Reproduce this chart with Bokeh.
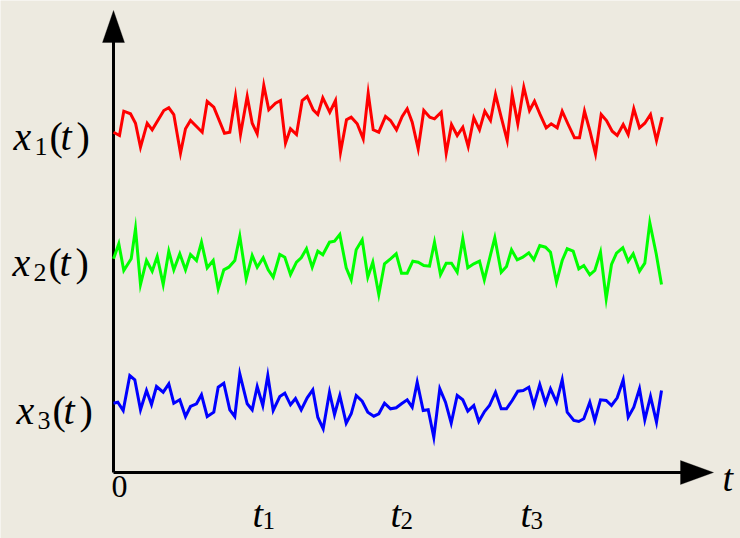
from bokeh.plotting import figure
from bokeh.models import Range1d, Label, PolyAnnotation
from bokeh.embed import file_html
from bokeh.resources import INLINE

# ---------------- data (time t, signal level) ----------------
t_x1 = [0, 6, 10.3, 17, 22, 27, 33.7, 38.7, 50.3, 55.3, 60.3, 67, 72, 77, 88.7, 93.7, 100.3, 111, 116.3, 122,
        127, 133.7, 138.7, 143.7, 150.3, 155.3, 162, 167, 172, 177, 183, 188.7, 193.7, 199.7, 204.3, 209.3,
        216.3, 222, 227, 233, 237.7, 243.7, 249.7, 254.7, 259.7, 265.3, 272, 277, 283, 288.7, 293.7, 298.7,
        304.7, 310.3, 316.3, 321, 327.7, 332.7, 338, 343.7, 349.3, 354.7, 360.3, 366, 371.3, 377, 382, 387.7,
        393.7, 398.7, 404.3, 410.3, 416, 421, 427, 432.7, 437.7, 443.7, 448.7, 454.7, 461, 466, 471, 476.3,
        482, 487.7, 493, 498.7, 503.7, 509.7, 514.7, 520.3, 526, 531.3, 537, 543, 548.7]
x1 = [340.3, 337, 361.3, 358.7, 349.3, 325.3, 349.3, 342.7, 362, 364.7, 358, 319.3, 343.7, 352, 340.3, 371,
      365.3, 339.3, 340.3, 376, 338, 376, 349.3, 338.7, 387, 362.7, 369.3, 372, 329.3, 343.7, 338, 372, 376,
      362.7, 358, 374.7, 360.3, 372, 320.3, 352.7, 355.3, 348.7, 333.7, 379.3, 342.7, 340.3, 356, 352, 342.7,
      356, 363.7, 350.3, 323.7, 362, 355.3, 353.7, 360.3, 319.3, 348, 337, 345.3, 326, 354.7, 342.7, 361.3,
      352, 378, 355.3, 332, 378, 348.7, 385.3, 362, 371.3, 357, 344.7, 348.7, 344.7, 361.3, 348, 334.7, 334.7,
      361.3, 342, 318.7, 358, 352, 341.3, 337, 348, 338, 363.7, 344.7, 349.3, 358, 332, 355.3]

t_x2 = [0, 5.3, 10.3, 17.7, 22, 27, 33, 38.7, 43.7, 49.7, 55.3, 60.3, 66.3, 72, 77, 83, 88, 93.7, 99.7, 104.7,
        110.3, 115.3, 121.3, 126.3, 132.7, 138.7, 143.7, 149.7, 154.7, 159.7, 166.3, 171.3, 177, 183, 187.7,
        193, 198.7, 204.3, 209.3, 216, 221, 226.3, 232.7, 237.7, 242.7, 248.7, 254.3, 259.3, 265.3, 271, 277,
        282.7, 288, 293.7, 299.3, 304.7, 310.3, 316, 321, 327, 332.7, 338, 343.7, 349.3, 354.3, 360.3, 366,
        370.8, 376, 381.3, 387.7, 393, 398, 403.7, 409.3, 415.3, 420.3, 426.3, 432, 437, 443, 448.7, 453.7,
        459.7, 465.3, 470.3, 476.3, 481.3, 487, 492.7, 498, 503, 509.3, 514.7, 519.7, 526, 531.3, 536.3,
        542.7, 548]
x2 = [213.7, 228.7, 202, 213.7, 243.7, 188, 212, 201.3, 216, 188, 221.3, 202.7, 218.7, 202.7, 218, 212, 230.3,
      204.7, 212, 183.7, 202.7, 205.3, 212, 236.3, 193.7, 217, 205.3, 214.7, 202.7, 195.3, 218, 215.3, 198,
      210.3, 214.7, 223.7, 205.3, 221.3, 217.7, 230.3, 231.3, 238, 204.7, 192.7, 222.7, 232.7, 195.3, 210.3,
      178, 208.7, 213.7, 218.7, 199.3, 199.3, 211.3, 210.3, 207, 206.3, 230.3, 198, 209.3, 209.3, 200.3,
      233.7, 204.7, 208.7, 211.3, 192.7, 213.7, 234.7, 200.3, 206, 222.7, 212.7, 215.3, 219.7, 212.7, 227,
      225.3, 220.3, 190.3, 212, 223.7, 221.3, 203.7, 207, 197.7, 202, 220.3, 173.7, 208, 219.3, 224.7, 211.3,
      218.7, 201.3, 209.3, 249.7, 218.7, 188]

t_x3 = [0, 4.3, 9.7, 16.3, 21.3, 27, 33, 38, 43, 49.7, 55.3, 60.3, 66.3, 72, 77, 83, 88, 93.7, 100.3, 104.7,
        110.3, 116.3, 121.3, 126.3, 133.7, 138.7, 143.7, 149.3, 154.3, 159.7, 166.3, 171.3, 177, 182, 187.7,
        193.7, 199.3, 204.3, 209.7, 216, 221, 226.3, 232.7, 237.7, 242.7, 248.7, 254.3, 260.3, 265.3, 271, 277,
        282.7, 288, 293.7, 298.7, 303.7, 309.7, 314.7, 320.3, 326.3, 332, 337.7, 343.7, 349.3, 354.3, 360.3,
        365.3, 371, 376, 382, 387.7, 393, 398.7, 404.3, 409.7, 415.3, 420.3, 426.3, 432, 437, 443, 448.7,
        453.7, 460.3, 465.3, 470.3, 476.3, 481.3, 487, 492.7, 498, 503.7, 509.7, 514.7, 520.3, 526, 531.3,
        537, 543, 548]
x3 = [69.3, 70.3, 62, 97, 92.7, 62.7, 82, 68, 86, 80.3, 88.7, 69.3, 72.7, 56, 66, 68.7, 77.7, 56, 60.3, 85.3,
      89.3, 62.7, 56, 98.7, 68.7, 62.7, 86, 67, 97, 62, 76, 79.3, 67.7, 74, 62.7, 74.7, 82.7, 55.3, 43.7,
      80.3, 58, 77, 49.3, 58.7, 77, 71.3, 60.3, 56.3, 58.7, 69.3, 63.7, 64.7, 68.7, 72.7, 65.3, 90.3, 62,
      62.7, 35.3, 83.7, 70.3, 49.3, 77, 72.7, 61.3, 67, 51, 61, 67, 80.3, 63.7, 63.7, 72, 81.3, 82, 85.3, 67,
      88, 69.3, 83.7, 70.3, 92.7, 60.3, 52, 51, 53.7, 70.3, 52, 72.7, 72, 67, 74.7, 92.7, 55.3, 65.3, 83.7,
      52.7, 76, 50.3, 82]

series_times = [t_x1, t_x2, t_x3]
series_values = [x1, x2, x3]
series_colors = ["#FF0000", "#00FF00", "#0000FF"]
series_subscripts = ["1", "2", "3"]
series_label_x = [-100, -101, -97]
series_label_base = [336, 210, 62]

tick_positions = [139, 277, 407]
tick_subscripts = ["1", "2", "3"]

# ---------------- figure ----------------
BG = "#EDEAE0"
SERIF = "Liberation Serif"

p = figure(width=740, height=538, output_backend="svg", toolbar_location=None,
           x_range=Range1d(-113, 627), y_range=Range1d(-66, 472),
           x_axis_location=None, y_axis_location=None, min_border=0,
           background_fill_color=BG, border_fill_color=BG, outline_line_color=None)
p.grid.visible = False

# axes with arrow heads
p.segment(x0=[0, 0], y0=[0, 0], x1=[0, 570], y1=[432, 0], line_color="black", line_width=3)
p.add_layout(PolyAnnotation(xs=[-11, 11, 0], ys=[430, 430, 462], fill_color="black", fill_alpha=1,
                            line_color="black", line_width=1))
p.add_layout(PolyAnnotation(xs=[567, 567, 600], ys=[12, -12, 0], fill_color="black", fill_alpha=1,
                            line_color="black", line_width=1))

for ts, vs, c in zip(series_times, series_values, series_colors):
    p.line(ts, vs, line_color=c, line_width=3, line_join="miter")


def lab(x, y, text, size, italic, dx=0, dy=0):
    p.add_layout(Label(x=x, y=y, text=text, x_offset=dx, y_offset=dy,
                       text_font=SERIF, text_font_size=size,
                       text_font_style="italic" if italic else "normal",
                       text_baseline="alphabetic", text_align="left", text_color="black"))


for lx, lb, sub in zip(series_label_x, series_label_base, series_subscripts):
    lab(lx, lb, "x", "40px", True)
    lab(lx, lb, sub, "26px", False, dx=21, dy=-10)
    lab(lx, lb, "(", "40px", False, dx=36)
    lab(lx, lb, "t", "40px", True, dx=47)
    lab(lx, lb, ")", "40px", False, dx=63)

lab(-2, -14, "0", "32px", False)
for tp, sub in zip(tick_positions, tick_subscripts):
    lab(tp, -41, "t", "38px", True)
    lab(tp, -41, sub, "25px", False, dx=10, dy=-7)
lab(609, -5, "t", "38px", True)

open("out.html", "w").write(file_html(p, INLINE))
